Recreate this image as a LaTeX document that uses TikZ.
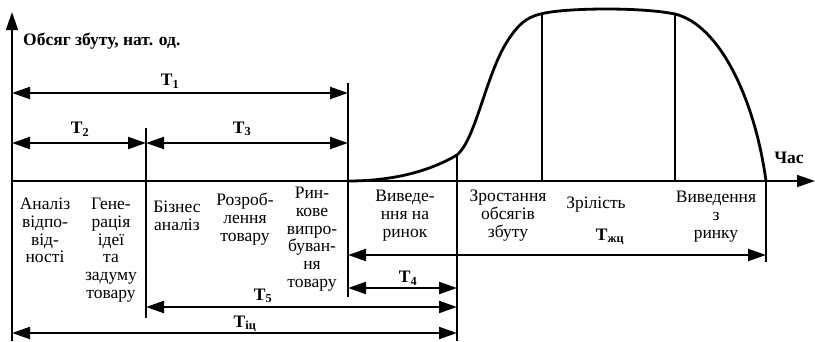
\documentclass[tikz,border=0pt]{standalone}
\usepackage{fontspec}
\setmainfont{Liberation Serif}
\usetikzlibrary{arrows.meta}

\begin{document}
\begin{tikzpicture}[x=1pt,y=-1pt,
  font=\fontsize{17.5}{17.7}\selectfont,
  ax/.style={line width=1.6pt,-{Triangle[length=18pt,width=12pt]}},
  dim/.style={line width=2pt,{Triangle[length=18pt,width=12pt]}-{Triangle[length=18pt,width=12pt]}},
  sep/.style={line width=1.2pt},
  lbl/.style={align=center,inner sep=0pt,anchor=north},
  tl/.style={font=\fontsize{17.5}{18}\selectfont\bfseries,inner sep=0pt},
]
\useasboundingbox (0,0) rectangle (815,341);

% axes
\coordinate (ybot) at (12,341);
\coordinate (ytop) at (12,12);
\coordinate (o) at (12,181);
\coordinate (xend) at (815,181);
\draw[ax] (ybot) -- (ytop);
\draw[ax] (o) -- (xend);
\node[font=\fontsize{17.5}{18}\selectfont\bfseries,anchor=base west,inner sep=0pt] (yl) at (23,45) {Обсяг збуту, нат. од.};
\node[font=\fontsize{17.5}{18}\selectfont\bfseries,inner sep=0pt] (xl) at (789,158) {Час};

% separators
\coordinate (s1a) at (146,128); \coordinate (s1b) at (146,318);
\coordinate (s2a) at (348,83);  \coordinate (s2b) at (348,297);
\coordinate (s3a) at (457,155); \coordinate (s3b) at (457,341);
\coordinate (s4a) at (542,14);  \coordinate (s4b) at (542,181);
\coordinate (s5a) at (675,14);  \coordinate (s5b) at (675,181);
\coordinate (s6a) at (766,181); \coordinate (s6b) at (766,262);
\foreach \s in {s1,s2,s3,s4,s5,s6}
  \draw[sep] (\s a) -- (\s b);

% life cycle curve
\draw[line width=2.8pt] (s2a |- o) .. controls (400,181) and (435,168) .. (s3a)
  .. controls (475,140) and (485,80) .. (505,45)
  .. controls (520,20) and (530,16) .. (545,13)
  .. controls (570,8) and (640,7) .. (s5a)
  .. controls (720,25) and (755,100) .. (s6a);

% time spans
\coordinate (t1a) at (12,93);   \coordinate (t1b) at (348,93);
\coordinate (t2a) at (12,143);  \coordinate (t2b) at (146,143);
\coordinate (t3b) at (348,143);
\coordinate (tja) at (348,255); \coordinate (tjb) at (766,255);
\coordinate (t4a) at (348,288); \coordinate (t4b) at (457,288);
\coordinate (t5a) at (146,307); \coordinate (t5b) at (457,307);
\coordinate (tia) at (12,333);  \coordinate (tib) at (457,333);
\draw[dim] (t1a) -- (t1b);
\draw[dim] (t2a) -- (t2b);
\draw[dim] (t2b) -- (t3b);
\draw[dim] (tja) -- (tjb);
\draw[dim] (t4a) -- (t4b);
\draw[dim] (t5a) -- (t5b);
\draw[dim] (tia) -- (tib);

\node[tl] (T1) at (170,81) {T\textsubscript{1}};
\node[tl] (T2) at (80,129) {T\textsubscript{2}};
\node[tl] (T3) at (242,129) {T\textsubscript{3}};
\node[tl] (Tj) at (610,237) {T\textsubscript{жц}};
\node[tl] (T4) at (408,278) {T\textsubscript{4}};
\node[tl] (T5) at (263,296) {T\textsubscript{5}};
\node[tl] (Ti) at (245,324) {T\textsubscript{іц}};

% stages
\node[lbl] (an)  at (45,198)  {Аналіз\\відпо-\\від-\\ності};
\node[lbl] (gen) at (111,198) {Гене-\\рація\\ідеї\\та\\задуму\\товару};
\node[lbl] (biz) at (177,201) {Бізнес\\аналіз};
\node[lbl] (roz) at (245,193) {Розроб-\\лення\\товару};
\node[lbl] (ryn) at (312,187) {Рин-\\кове\\випро-\\буван-\\ня\\товару};
\node[lbl] (vyv) at (405,190) {Виведе-\\ння на\\ринок};
\node[lbl] (zro) at (508,190) {Зростання\\обсягів\\збуту};
\node[lbl] (zri) at (596,197) {Зрілість};
\node[lbl] (vyz) at (716,191) {Виведення\\з\\ринку};
\end{tikzpicture}
\end{document}
